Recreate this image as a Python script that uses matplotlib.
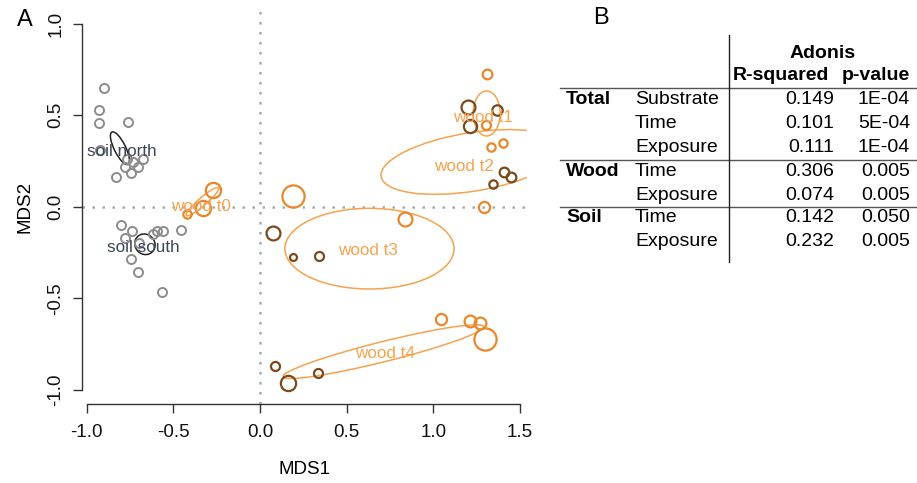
import numpy as np
import matplotlib
matplotlib.use("Agg")
import matplotlib.pyplot as plt
from matplotlib.patches import Ellipse

plt.rcParams['font.family'] = ['Liberation Sans', 'DejaVu Sans']

# --- NMDS scores ---
soil_x = [-0.898, -0.929, -0.929, -0.763, -0.923, -0.769, -0.735, -0.673, -0.779, -0.706, -0.744, -0.833,
          -0.802, -0.741, -0.596, -0.558, -0.458, -0.780, -0.742, -0.703, -0.567, -0.62, -0.70]
soil_y = [0.648, 0.529, 0.456, 0.462, 0.310, 0.260, 0.246, 0.260, 0.219, 0.219, 0.183, 0.164,
          -0.099, -0.130, -0.130, -0.130, -0.127, -0.172, -0.287, -0.355, -0.464, -0.15, -0.20]

wood_x = [-0.269, -0.327, -0.423,
          1.312, 1.202, 1.368, 1.210, 1.302,
          1.404, 1.331, 1.410, 1.446, 1.344, 1.294,
          0.189, 0.839, 0.073, 0.192, 0.342,
          1.044, 1.212, 1.269, 1.298, 0.087, 0.160, 0.336]
wood_y = [0.092, -0.008, -0.039,
          0.726, 0.543, 0.527, 0.441, 0.445,
          0.350, 0.328, 0.192, 0.165, 0.125, 0.001,
          0.059, -0.068, -0.145, -0.276, -0.269,
          -0.613, -0.625, -0.638, -0.721, -0.870, -0.961, -0.907]
wood_size = [11, 11, 6,
             7, 10, 7.5, 9.5, 6.5,
             6, 6, 7, 7, 6, 8,
             16, 10, 10, 5, 6.5,
             8, 8.5, 8.5, 16, 6.5, 11, 6.5]
wood_dark = [0, 0, 0,
             0, 1, 1, 1, 0,
             0, 0, 1, 1, 1, 0,
             0, 0, 1, 1, 1,
             0, 0, 0, 0, 1, 1, 1]

# group ellipses: centre, width, height, angle
ell_names = ['soil north', 'soil south', 'wood t0', 'wood t1', 'wood t2', 'wood t3', 'wood t4']
ell_cx = [-0.808, -0.664, -0.332, 1.308, 1.223, 0.632, 0.712]
ell_cy = [0.320, -0.205, 0.028, 0.510, 0.245, -0.229, -0.792]
ell_w = [0.20, 0.12, 0.24, 0.156, 1.06, 0.976, 1.19]
ell_h = [0.065, 0.11, 0.045, 0.246, 0.32, 0.441, 0.11]
ell_ang = [-62, -30, 39, 0, 8.6, 0, 13.3]

lab_x = [-0.798, -0.673, -0.342, 1.289, 1.179, 0.625, 0.721]
lab_y = [0.301, -0.224, 0.001, 0.489, 0.219, -0.240, -0.804]

# --- Adonis table ---
tab_groups = ['Total', '', '', 'Wood', '', 'Soil', '']
tab_factors = ['Substrate', 'Time', 'Exposure', 'Time', 'Exposure', 'Time', 'Exposure']
tab_r2 = ['0.149', '0.101', '0.111', '0.306', '0.074', '0.142', '0.232']
tab_p = ['1E-04', '5E-04', '1E-04', '0.005', '0.005', '0.050', '0.005']

grey = '#8c8c8c'
orange = '#e8872c'
light_orange = '#f7a24f'
brown = '#7a4a1c'
soil_txt = '#3c4656'

W, H = 917, 483
fig = plt.figure(figsize=(W / 100, H / 100), dpi=100)

def fx(px):
    return px / W

def fy(py):
    return 1 - py / H

ax = fig.add_axes([fx(82), fy(404), fx(527) - fx(82), fy(9) - fy(404)])
ax.set_xlim(-1.027, 1.541)
ax.set_ylim(-1.078, 1.081)

ax.axvline(0, color='#aaaaaa', linestyle=(0, (1, 3)), lw=1.8, zorder=1)
ax.axhline(0, color='#aaaaaa', linestyle=(0, (1, 3)), lw=1.8, zorder=1)

ax.plot(soil_x, soil_y, 'o', ms=6.5, mfc='none', mec=grey, mew=1.4, zorder=3)

for x, y, s, d in zip(wood_x, wood_y, wood_size, wood_dark):
    ax.plot(x, y, 'o', ms=s, mfc='none', mec=brown if d else orange, mew=1.6, zorder=3)

for i, name in enumerate(ell_names):
    col = '#222222' if name.startswith('soil') else light_orange
    ax.add_patch(Ellipse((ell_cx[i], ell_cy[i]), ell_w[i], ell_h[i], angle=ell_ang[i],
                         fill=False, ec=col, lw=1.1, zorder=2))
    tcol = soil_txt if name.startswith('soil') else light_orange
    ax.text(lab_x[i], lab_y[i], name, color=tcol, fontsize=12.3, ha='center', va='center', zorder=4)

for s in ['top', 'right']:
    ax.spines[s].set_visible(False)
ax.spines['left'].set_bounds(-1, 1)
ax.spines['bottom'].set_bounds(-1, 1.5)
for s in ['left', 'bottom']:
    ax.spines[s].set_color('#333333')
    ax.spines[s].set_linewidth(1.0)
ax.set_xticks([-1.0, -0.5, 0.0, 0.5, 1.0, 1.5])
ax.set_yticks([-1.0, -0.5, 0.0, 0.5, 1.0])
ax.set_xticklabels(['-1.0', '-0.5', '0.0', '0.5', '1.0', '1.5'])
ax.set_yticklabels(['-1.0', '-0.5', '0.0', '0.5', '1.0'], rotation=90, va='center')
ax.tick_params(axis='both', length=6.7, width=1.0, color='#333333', labelsize=13.5, labelcolor='#111111')
ax.tick_params(axis='x', pad=8)
ax.tick_params(axis='y', pad=6)
ax.set_xlabel('MDS1', fontsize=13.5, labelpad=14)
ax.set_ylabel('MDS2', fontsize=13.5, labelpad=10)

fig.text(fx(25), fy(20), 'A', fontsize=17, ha='center', va='center')
fig.text(fx(601), fy(18), 'B', fontsize=17, ha='center', va='center')

# table
tfs = 14
fig.text(fx(823), fy(53), 'Adonis', fontsize=tfs, weight='bold', ha='center', va='center')
fig.text(fx(733), fy(76), 'R-squared', fontsize=tfs, weight='bold', ha='left', va='center')
fig.text(fx(910), fy(76), 'p-value', fontsize=tfs, weight='bold', ha='right', va='center')
row_y = [100, 124, 147, 172, 195, 218, 241]
for i in range(len(tab_factors)):
    yy = fy(row_y[i])
    if tab_groups[i]:
        fig.text(fx(566), yy, tab_groups[i], fontsize=tfs, weight='bold', ha='left', va='center')
    fig.text(fx(635), yy, tab_factors[i], fontsize=tfs, ha='left', va='center')
    fig.text(fx(834), yy, tab_r2[i], fontsize=tfs, ha='right', va='center')
    fig.text(fx(910), yy, tab_p[i], fontsize=tfs, ha='right', va='center')
for ly in [88, 160, 207]:
    fig.add_artist(plt.Line2D([fx(560), fx(917)], [fy(ly), fy(ly)], color='#555555', lw=1.0))
fig.add_artist(plt.Line2D([fx(729), fx(729)], [fy(35), fy(262)], color='#222222', lw=1.0))

fig.savefig('out.png', dpi=100)
